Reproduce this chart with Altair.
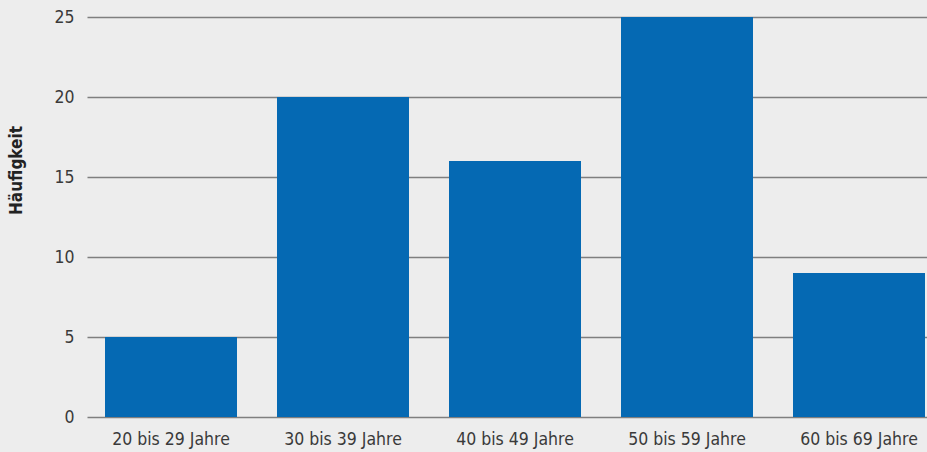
import altair as alt
import pandas as pd

# Age groups and their frequencies
age_groups = ["20 bis 29 Jahre", "30 bis 39 Jahre", "40 bis 49 Jahre", "50 bis 59 Jahre", "60 bis 69 Jahre"]
frequencies = [5, 20, 16, 25, 9]
y_ticks = [0, 5, 10, 15, 20, 25]

df = pd.DataFrame({"Altersgruppe": age_groups, "Häufigkeit": frequencies})

FONT = "DejaVu Sans Condensed, sans-serif"

chart = (
    alt.Chart(df)
    .mark_bar(color="#0569b3")
    .encode(
        x=alt.X(
            "Altersgruppe:N",
            sort=age_groups,
            scale=alt.Scale(paddingInner=40 / 172, paddingOuter=10 / 172, align=0.9),
            axis=alt.Axis(
                title=None,
                labelAngle=0,
                labelFontSize=17.5,
                labelColor="#3a3a3a",
                labelPadding=13,
                ticks=False,
                domain=False,
                grid=False,
            ),
        ),
        y=alt.Y(
            "Häufigkeit:Q",
            scale=alt.Scale(domain=[0, 25], nice=False),
            axis=alt.Axis(
                values=y_ticks,
                title="Häufigkeit",
                titleFontSize=17,
                titleFontWeight="bold",
                titleColor="#222222",
                titleX=-62,
                titleY=153,
                labelFontSize=17.5,
                labelColor="#3a3a3a",
                labelPadding=13,
                ticks=False,
                domain=False,
                gridColor="#7f7f7f",
                gridWidth=1.6,
                gridOpacity=1,
            ),
        ),
    )
    .properties(
        width=840,
        height=400,
        background="#ededed",
        padding={"left": 87, "top": 17, "right": 0, "bottom": 35},
        autosize=alt.AutoSizeParams(type="none"),
    )
    .configure(font=FONT)
    .configure_view(strokeWidth=0, stroke="transparent")
    .configure_axis(labelFont=FONT, titleFont=FONT)
)

chart.save("out.html", embed_options={"renderer": "svg", "actions": False})
